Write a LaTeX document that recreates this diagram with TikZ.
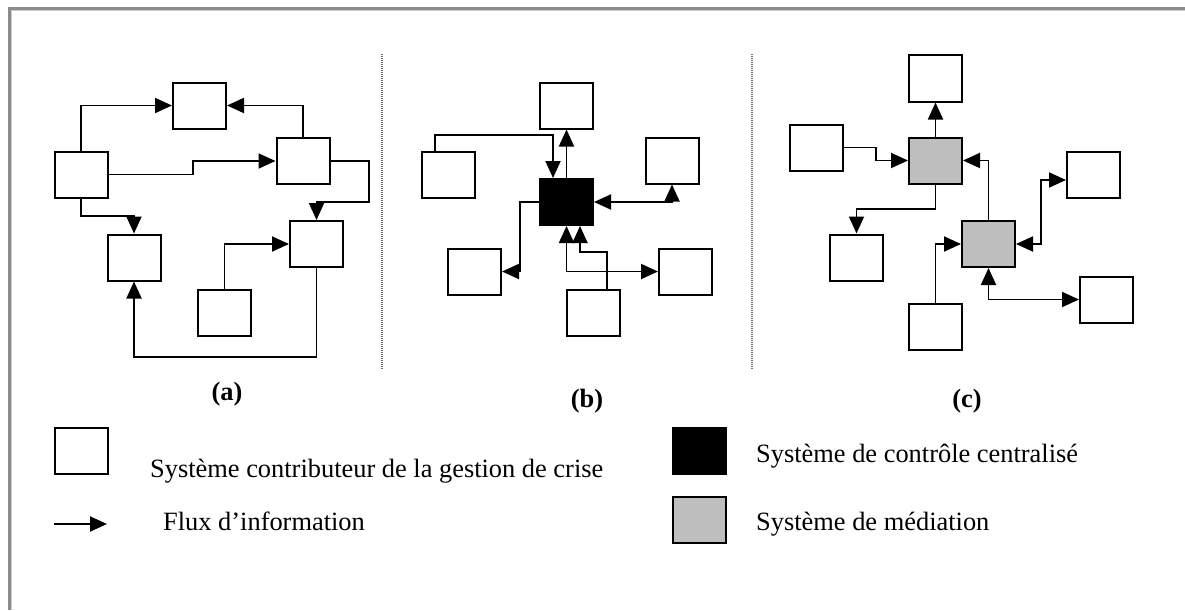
\documentclass[tikz,border=0pt]{standalone}
\usepackage{fontspec}
\setmainfont{Liberation Serif}
\usetikzlibrary{arrows.meta}
\definecolor{mediation}{RGB}{190,190,190}
\definecolor{framegray}{RGB}{140,140,140}
\definecolor{framelight}{RGB}{205,205,205}
\definecolor{sepgray}{RGB}{110,110,110}

\begin{document}
\begin{tikzpicture}[x=1pt,y=-1pt,
  sysbox/.style={draw, fill=white, line width=2pt, minimum width=53pt, minimum height=46pt, inner sep=0pt},
  ctrlbox/.style={sysbox, fill=black},
  medbox/.style={sysbox, fill=mediation},
  flow/.style={line width=1.9pt, -{Triangle[length=17pt,width=15pt]}},
  flowboth/.style={line width=1.9pt, {Triangle[length=17pt,width=15pt]}-{Triangle[length=17pt,width=15pt]}},
  panel/.style={font=\fontsize{26.4}{30}\selectfont\bfseries, inner sep=0pt},
  legend/.style={font=\fontsize{26.4}{30}\selectfont, anchor=base west, inner sep=0pt},
  separator/.style={sepgray, line width=1.2pt, dash pattern=on 1pt off 1pt}]

\useasboundingbox (0,0) rectangle (1185,610);
\fill[white] (0,0) rectangle (1185,610);

% frame along the top and left edges
\draw[framegray, line width=2.5pt] (9.5,610) -- (9.5,8.5) -- (1185,8.5);
\draw[framelight, line width=1pt] (11.5,610) -- (11.5,10.5) -- (1185,10.5);

% separators between the three organisations
\draw[separator] (382,54) -- (382,370);
\draw[separator] (752,54) -- (752,370);

% (a) point-to-point exchanges
\node[sysbox] (a1) at (199.5,105.5) {};
\node[sysbox] (a2) at (81,174.5) {};
\node[sysbox] (a3) at (303,161) {};
\node[sysbox] (a4) at (134,257.5) {};
\node[sysbox] (a5) at (316.5,244) {};
\node[sysbox] (a6) at (224.5,313) {};
\draw[flow] (a2.north) |- (a1.west);
\draw[flow] (a3.north) |- (a1.east);
\draw[flow] (a2.east) -- (a2.east -| 193,0) |- (a3.west);
\draw[flow] (a2.south) -- (a2.south |- 0,216) -| (a4.north);
\draw[flow] (a3.east) -- (a3.east -| 369,0) -- (369,202) -| (a5.north);
\draw[flow] (a6.north) |- (a5.west);
\draw[flow] (a5.south) -- (a5.south |- 0,357) -| (a4.south);
\node[panel] (la) at (227,394) {(a)};

% (b) centralised control
\node[sysbox] (b1) at (566.5,105.5) {};
\node[sysbox] (b2) at (448,174.5) {};
\node[ctrlbox] (bc) at (566.5,202) {};
\node[sysbox] (b3) at (672,160.5) {};
\node[sysbox] (b4) at (474.5,271.5) {};
\node[sysbox] (b5) at (685.5,271.5) {};
\node[sysbox] (b6) at (593,313) {};
\draw[flow] (b2.north -| 435,0) |- (553,135) -- (bc.north -| 553,0);
\draw[flow] (bc.north) -- (b1.south);
\draw[flowboth] (bc.east) -| (b3.south);
\draw[flow] (bc.west) -- (bc.west -| 520,0) |- (b4.east);
\draw[flow] (b6.north -| 607,0) |- (580,252) -- (bc.south -| 580,0);
\draw[flowboth] (bc.south) |- (b5.west);
\node[panel] (lb) at (587,401) {(b)};

% (c) mediation
\node[sysbox] (c1) at (935.5,78.5) {};
\node[sysbox] (c2) at (816.5,147.5) {};
\node[medbox] (g1) at (935.5,160.5) {};
\node[sysbox] (c3) at (1093.5,174.5) {};
\node[sysbox] (c4) at (856.5,257.5) {};
\node[medbox] (g2) at (988.5,244) {};
\node[sysbox] (c5) at (935.5,326.5) {};
\node[sysbox] (c6) at (1106.5,299.5) {};
\draw[flow] (g1.north) -- (c1.south);
\draw[flow] (c2.east) -- (c2.east -| 876,0) |- (g1.west);
\draw[flow] (g2.north) |- (g1.east);
\draw[flow] (g1.south) -- (g1.south |- 0,209) -| (c4.north);
\draw[flow] (c5.north) |- (g2.west);
\draw[flowboth] (g2.east) -- (g2.east -| 1041,0) |- (c3.west |- 0,180);
\draw[flowboth] (g2.south) |- (c6.west);
\node[panel] (lc) at (967,401) {(c)};

% legend
\node[sysbox] (keysys) at (81,450.5) {};
\node[legend] (keysystxt) at (150,477) {Système contributeur de la gestion de crise};
\coordinate (keyflowstart) at (54,524);
\coordinate (keyflowend) at (107,524);
\draw[flow] (keyflowstart) -- (keyflowend);
\node[legend] (keyflowtxt) at (163,530) {Flux d’information};
\node[ctrlbox] (keyctrl) at (699,450.5) {};
\node[legend] (keyctrltxt) at (756,462) {Système de contrôle centralisé};
\node[medbox] (keymed) at (699,519.5) {};
\node[legend] (keymedtxt) at (756,530) {Système de médiation};
\end{tikzpicture}
\end{document}
